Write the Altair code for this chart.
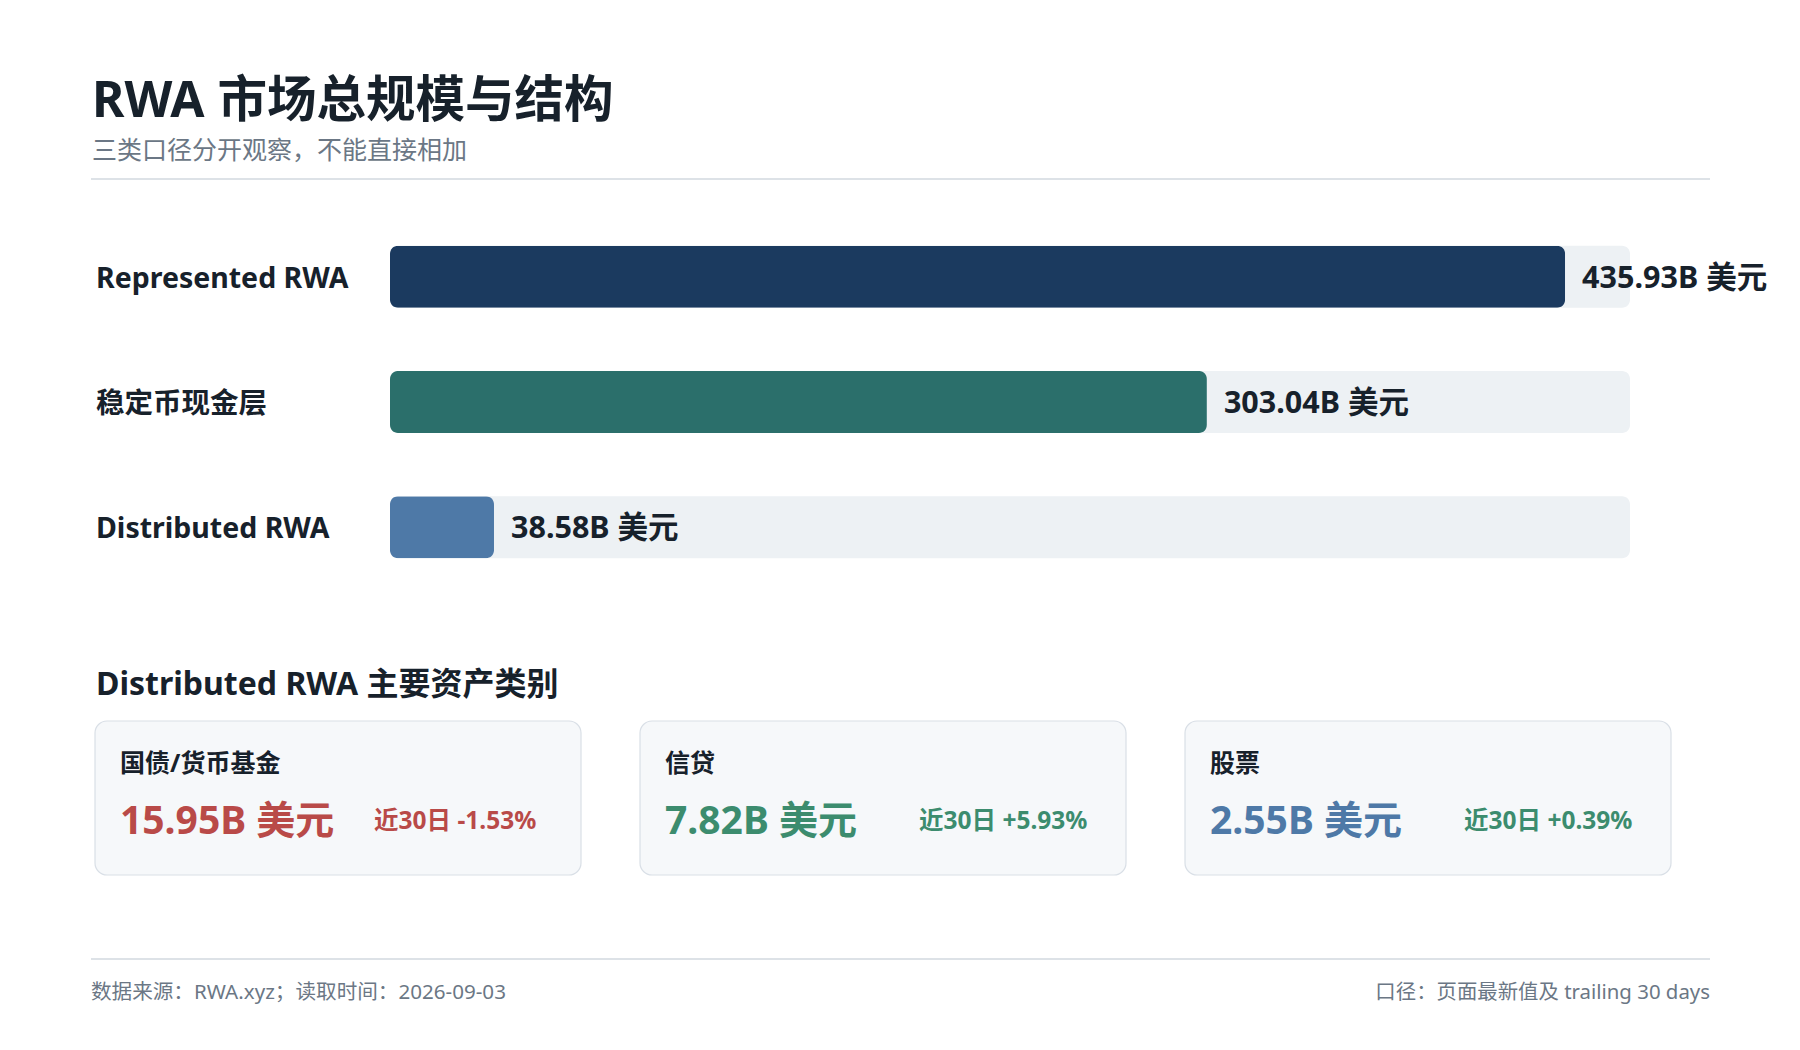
import altair as alt
import pandas as pd

TITLE = "RWA 市场总规模与结构"
SUBTITLE = "三类口径分开观察，不能直接相加"
bar_labels = ["Represented RWA", "稳定币现金层", "Distributed RWA"]
bar_values = [435.93, 303.04, 38.58]
bar_colors = ["#1b3a5f", "#2b6f6b", "#4e79a7"]
SECTION_TITLE = "Distributed RWA 主要资产类别"
card_names = ["国债/货币基金", "信贷", "股票"]
card_values = [15.95, 7.82, 2.55]
card_changes = [-1.53, 5.93, 0.39]
card_value_colors = ["#b94a48", "#3c8c6e", "#4e79a7"]
FOOT_LEFT = "数据来源：RWA.xyz；读取时间：2026-09-03"
FOOT_RIGHT = "口径：页面最新值及 trailing 30 days"
X_MAX = 460

W, H = 1784, 1030
FONT = "Noto Sans, Noto Sans CJK SC, sans-serif"
DARK = "#17212b"
GRAY = "#6b7785"
LINE = "#dde2e7"

bars = pd.DataFrame({"label": bar_labels, "value": bar_values})

xs = alt.Scale(domain=[0, X_MAX], range=[382, 1622])
ys = alt.Scale(domain=bar_labels, range=[206, 582], paddingInner=0.505, paddingOuter=0.2525)


def one(text):
    return pd.DataFrame({"t": [text]})


layers = []

# header
layers.append(
    alt.Chart(one(TITLE)).mark_text(font=FONT, fontSize=49.5, fontWeight="bold", color=DARK,
                                    align="left", baseline="alphabetic")
    .encode(x=alt.value(84), y=alt.value(109), text="t:N")
)
layers.append(
    alt.Chart(one(SUBTITLE)).mark_text(font=FONT, fontSize=25, color=GRAY,
                                       align="left", baseline="middle", dy=2)
    .encode(x=alt.value(84), y=alt.value(141), text="t:N")
)
layers.append(
    alt.Chart(one("")).mark_rule(color=LINE, strokeWidth=2)
    .encode(x=alt.value(83), x2=alt.value(1702), y=alt.value(171))
)

# bars
track = alt.Chart(bars).transform_calculate(zero="0", track=str(X_MAX)).mark_bar(
    cornerRadius=8, color="#edf1f4"
).encode(
    x=alt.X("zero:Q", scale=xs, axis=None),
    x2="track:Q",
    y=alt.Y("label:N", scale=ys, axis=None, sort=bar_labels),
)
bar = alt.Chart(bars).mark_bar(cornerRadius=8).encode(
    x=alt.X("value:Q", scale=xs, axis=None),
    y=alt.Y("label:N", scale=ys, axis=None, sort=bar_labels),
    color=alt.Color("label:N", scale=alt.Scale(domain=bar_labels, range=bar_colors), legend=None),
)
val_text = alt.Chart(bars).transform_calculate(
    txt="format(datum.value, '.2f') + 'B 美元'"
).mark_text(font=FONT, fontSize=30.5, fontWeight="bold", color=DARK, align="left",
            baseline="middle", dx=17, dy=2).encode(
    x=alt.X("value:Q", scale=xs, axis=None),
    y=alt.Y("label:N", scale=ys, axis=None, sort=bar_labels),
    text="txt:N",
)
lab_text = alt.Chart(bars).mark_text(font=FONT, fontSize=28.5, fontWeight="bold", color=DARK,
                                     align="left", baseline="middle", dy=2).encode(
    x=alt.value(88),
    y=alt.Y("label:N", scale=ys, axis=None, sort=bar_labels),
    text="label:N",
)
layers += [track, bar, val_text, lab_text]

# section title
layers.append(
    alt.Chart(one(SECTION_TITLE)).mark_text(font=FONT, fontSize=32, fontWeight="bold", color=DARK,
                                            align="left", baseline="middle", dy=3)
    .encode(x=alt.value(88), y=alt.value(674), text="t:N")
)

# cards
CARD_W, CARD_STEP, CARD_X0, CARD_Y0, CARD_Y1 = 486, 545, 87, 713, 867
for i in range(len(card_names)):
    left = CARD_X0 + i * CARD_STEP
    cd = pd.DataFrame({"name": [card_names[i]], "value": [card_values[i]], "change": [card_changes[i]]})
    layers.append(
        alt.Chart(cd).mark_rect(cornerRadius=12, fill="#f6f8fa", stroke="#d9dfe6", strokeWidth=1.2)
        .encode(x=alt.value(left), x2=alt.value(left + CARD_W), y=alt.value(CARD_Y0), y2=alt.value(CARD_Y1))
    )
    layers.append(
        alt.Chart(cd).mark_text(font=FONT, fontSize=25, fontWeight="bold", color=DARK,
                                align="left", baseline="middle", dy=2)
        .encode(x=alt.value(left + 25), y=alt.value(754), text="name:N")
    )
    layers.append(
        alt.Chart(cd).transform_calculate(txt="format(datum.value, '.2f') + 'B 美元'")
        .mark_text(font=FONT, fontSize=39, fontWeight="bold", color=card_value_colors[i],
                   align="left", baseline="middle", dy=2)
        .encode(x=alt.value(left + 25), y=alt.value(812), text="txt:N")
    )
    chg_color = "#b94a48" if card_changes[i] < 0 else "#3c8c6e"
    layers.append(
        alt.Chart(cd).transform_calculate(
            txt="'近30日 ' + (datum.change >= 0 ? '+' : '-') + format(abs(datum.change), '.2f') + '%'"
        )
        .mark_text(font=FONT, fontSize=24.5, fontWeight="bold", color=chg_color,
                   align="left", baseline="middle", dy=2)
        .encode(x=alt.value(left + 279), y=alt.value(812), text="txt:N")
    )

# footer
layers.append(
    alt.Chart(one("")).mark_rule(color=LINE, strokeWidth=2)
    .encode(x=alt.value(83), x2=alt.value(1702), y=alt.value(951))
)
layers.append(
    alt.Chart(one(FOOT_LEFT)).mark_text(font=FONT, fontSize=20.6, color=GRAY,
                                        align="left", baseline="middle", dy=2)
    .encode(x=alt.value(83), y=alt.value(983), text="t:N")
)
layers.append(
    alt.Chart(one(FOOT_RIGHT)).mark_text(font=FONT, fontSize=20.4, color=GRAY,
                                         align="right", baseline="middle", dy=2)
    .encode(x=alt.value(1702), y=alt.value(983), text="t:N")
)

chart = alt.layer(*layers).properties(
    width=W, height=H, padding=0, autosize=alt.AutoSizeParams(type="none"),
    background="#ffffff",
).configure_view(stroke=None)

chart.save("out.html", embed_options={"renderer": "svg", "actions": False})
